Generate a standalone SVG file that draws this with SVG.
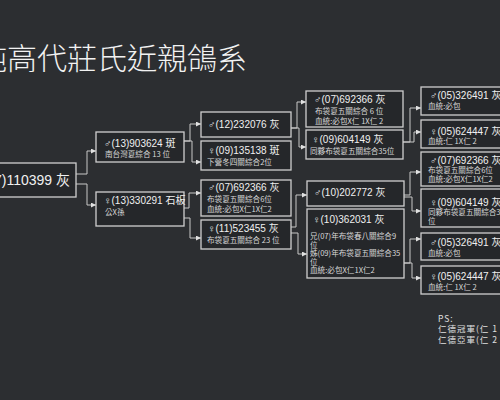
<svg xmlns="http://www.w3.org/2000/svg" width="500" height="400" viewBox="0 0 500 400">
<style>
.bx{fill:#25272a;stroke:#cfcfcf;stroke-width:1.3}
.id{font-family:"Liberation Sans","Noto Sans CJK TC",sans-serif;font-size:10px;fill:#f0f0f0}
.sb{font-family:"Noto Sans CJK TC","Liberation Sans",sans-serif;font-size:7.6px;fill:#d8d8d8}
.ttl{font-family:"Noto Sans CJK TC",sans-serif;font-size:30px;fill:#f2f2f2;font-weight:300}
.cn{fill:none;stroke:#c8c8c8;stroke-width:1;marker-end:url(#ah)}
.ps{font-family:"Noto Sans CJK TC","Liberation Sans",sans-serif;font-size:8.5px;fill:#e0e0e0;letter-spacing:1px}
</style>
<defs>
<marker id="ah" markerWidth="5" markerHeight="5" refX="5" refY="2.5" orient="auto" markerUnits="userSpaceOnUse">
<path d="M0,0 L5,2.5 L0,5 Z" fill="#e0e0e0"/>
</marker>
</defs>
<rect width="500" height="400" fill="#2c2e31"/>
<text class="ttl" x="-23" y="69">純高代莊氏近親鴿系</text>

<g id="connectors">
<path class="cn" d="M76,174 H87 V151 H96"/>
<path class="cn" d="M76,184 H87 V205 H96"/>
<path class="cn" d="M184,141 H190 V124 H201"/>
<path class="cn" d="M184,141 H192 V162 H201"/>
<path class="cn" d="M184,208 H189 V193 H201"/>
<path class="cn" d="M184,218 H190 V238 H201"/>
<path class="cn" d="M291,128 H297 V102 H306"/>
<path class="cn" d="M291,128 H299 V147 H306"/>
<path class="cn" d="M291,227 H296 V195 H307"/>
<path class="cn" d="M291,233 H298 V254 H307"/>
<path class="cn" d="M403,142 H410 V108 H421"/>
<path class="cn" d="M403,142 H414 V132 H421"/>
<path class="cn" d="M404,195 H410 V172 H421"/>
<path class="cn" d="M404,197 H412 V211 H421"/>
<path class="cn" d="M404,263 H410 V239 H421"/>
<path class="cn" d="M404,263 H412 V278 H421"/>
</g>

<g id="root">
<rect class="bx" x="-10" y="163" width="86" height="34"/>
<text class="id" x="70" y="185" text-anchor="end" style="font-size:14px">(07)110399 灰</text>
</g>

<g id="nA">
<rect class="bx" x="96" y="132" width="88" height="30"/>
<text class="id" x="104" y="147">♂(13)903624 斑</text>
<text class="sb" x="105" y="157">南台灣夏綜合 13 位</text>
</g>
<g id="nB">
<rect class="bx" x="96" y="192" width="88" height="34"/>
<text class="id" x="104" y="204">♀(13)330291 石板</text>
<text class="sb" x="105" y="215">公X孫</text>
</g>

<g id="nC">
<rect class="bx" x="201" y="112" width="90" height="25"/>
<text class="id" x="208" y="128">♂(12)232076 灰</text>
</g>
<g id="nD">
<rect class="bx" x="201" y="141" width="90" height="29"/>
<text class="id" x="208" y="154">♀(09)135138 斑</text>
<text class="sb" x="207" y="165">下營冬四關綜合2位</text>
</g>
<g id="nE">
<rect class="bx" x="201" y="180" width="90" height="36"/>
<text class="id" x="208" y="191">♂(07)692366 灰</text>
<text class="sb" x="207" y="202">布袋夏五關綜合6位</text>
<text class="sb" x="207" y="212">血統:必包X仁1X仁2</text>
</g>
<g id="nF">
<rect class="bx" x="201" y="220" width="90" height="29"/>
<text class="id" x="208" y="232">♀(11)523455 灰</text>
<text class="sb" x="207" y="243">布袋夏五關綜合 23 位</text>
</g>

<g id="nG">
<rect class="bx" x="306" y="91" width="97" height="36"/>
<text class="id" x="314" y="103">♂(07)692366 灰</text>
<text class="sb" x="315" y="114">布袋夏五關綜合 6 位</text>
<text class="sb" x="315" y="124">血統:必包X仁 1X仁 2</text>
</g>
<g id="nH">
<rect class="bx" x="306" y="130" width="97" height="29"/>
<text class="id" x="312" y="143">♀(09)604149 灰</text>
<text class="sb" x="310" y="154">同夥布袋夏五關綜合35位</text>
</g>
<g id="nI">
<rect class="bx" x="307" y="181" width="97" height="25"/>
<text class="id" x="314" y="196">♂(10)202772 灰</text>
</g>
<g id="nJ">
<rect class="bx" x="307" y="209" width="97" height="69"/>
<text class="id" x="313" y="223">♀(10)362031 灰</text>
<text class="sb" x="310" y="239">兄(07)年布袋春八關綜合9</text>
<text class="sb" x="310" y="247.5">位</text>
<text class="sb" x="310" y="256">姊(09)年布袋夏五關綜合35</text>
<text class="sb" x="310" y="264.5">位</text>
<text class="sb" x="310" y="273">血統:必包X仁1X仁2</text>
</g>

<g id="nK">
<rect class="bx" x="421" y="87" width="90" height="28"/>
<text class="id" x="430" y="99">♂(05)326491 灰</text>
<text class="sb" x="428" y="109">血統:必包</text>
</g>
<g id="nL">
<rect class="bx" x="421" y="120" width="90" height="28"/>
<text class="id" x="430" y="135">♀(05)624447 灰</text>
<text class="sb" x="428" y="144">血統:仁 1X仁 2</text>
</g>
<g id="nM">
<rect class="bx" x="421" y="152" width="90" height="34"/>
<text class="id" x="430" y="164">♂(07)692366 灰</text>
<text class="sb" x="428" y="173">布袋夏五關綜合6位</text>
<text class="sb" x="428" y="182">血統:必包X仁1X仁2</text>
</g>
<g id="nN">
<rect class="bx" x="421" y="189" width="90" height="38"/>
<text class="id" x="430" y="206">♀(09)604149 灰</text>
<text class="sb" x="428" y="215">同夥布袋夏五關綜合35</text>
<text class="sb" x="428" y="224">位</text>
</g>
<g id="nO">
<rect class="bx" x="421" y="233" width="90" height="27"/>
<text class="id" x="430" y="246">♂(05)326491 灰</text>
<text class="sb" x="428" y="256">血統:必包</text>
</g>
<g id="nP">
<rect class="bx" x="421" y="266" width="90" height="28"/>
<text class="id" x="430" y="280">♀(05)624447 灰</text>
<text class="sb" x="428" y="290">血統:仁 1X仁 2</text>
</g>

<g id="ps">
<text class="ps" x="438" y="322">PS:</text>
<text class="ps" x="438" y="332">仁德冠軍(仁 1</text>
<text class="ps" x="438" y="343">仁德亞軍(仁 2</text>
</g>
</svg>
